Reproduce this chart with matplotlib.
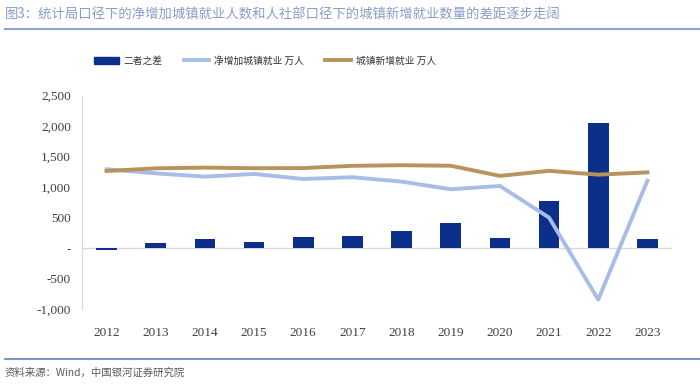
import numpy as np
import matplotlib.pyplot as plt
from matplotlib.lines import Line2D
from matplotlib.patches import Patch

plt.rcParams['font.family'] = ['Noto Sans CJK SC', 'DejaVu Sans']

# data
years = ['2012', '2013', '2014', '2015', '2016', '2017', '2018', '2019', '2020', '2021', '2022', '2023']
diff = [-28, 82, 152, 108, 190, 206, 284, 410, 174, 775, 2055, 148]
net_urban = [1295, 1228, 1174, 1218, 1136, 1164, 1092, 967, 1021, 502, -840, 1108]
new_urban = [1266, 1310, 1322, 1312, 1314, 1351, 1361, 1352, 1186, 1269, 1206, 1244]

bar_color = '#0B2F8A'
blue_line = '#A7BDE8'
gold_line = '#B8935C'

fig = plt.figure(figsize=(7, 3.87), dpi=100)
ax = fig.add_axes([82 / 700, 1 - 309.3 / 387, 590 / 700, 213.6 / 387])

x = np.arange(len(years))
ax.bar(x, diff, width=0.42, color=bar_color, zorder=2)
ax.plot(x, net_urban, color=blue_line, linewidth=2.8, zorder=3)
ax.plot(x, new_urban, color=gold_line, linewidth=2.8, zorder=3)
ax.axhline(0, color='#D9D9D9', linewidth=1, zorder=1)

ax.set_xlim(-0.5, len(years) - 0.5)
ax.set_ylim(-1000, 2500)
ax.set_yticks([-1000, -500, 0, 500, 1000, 1500, 2000, 2500])
ax.set_yticklabels(['-1,000', '-500', '-', '500', '1,000', '1,500', '2,000', '2,500'],
                   family='Liberation Serif', fontsize=9.5, color='#404040')
ax.set_xticks(x)
ax.set_xticklabels(years, family='Liberation Serif', fontsize=9.5, color='#404040')
ax.tick_params(length=0, pad=8)
ax.tick_params(axis='x', pad=13)
for s in ['top', 'right', 'bottom']:
    ax.spines[s].set_visible(False)
ax.spines['left'].set_color('#D9D9D9')

handles = [Patch(color=bar_color),
           Line2D([], [], color=blue_line, linewidth=2.8),
           Line2D([], [], color=gold_line, linewidth=2.8)]
labels = ['二者之差', '净增加城镇就业 万人', '城镇新增就业 万人']
fig.legend(handles, labels, loc='center', bbox_to_anchor=(0.378, 1 - 61 / 387), ncol=3,
           frameon=False, fontsize=7, handlelength=2.6, handleheight=0.8,
           columnspacing=2.2, handletextpad=0.5, labelcolor='#333333')

fig.text(5 / 700, 1 - 15 / 387, '图3：统计局口径下的净增加城镇就业人数和人社部口径下的城镇新增就业数量的差距逐步走阔',
         fontsize=9.6, color='#8A9CCB', va='center', ha='left')
fig.add_artist(Line2D([5 / 700, 1], [1 - 28.5 / 387] * 2, color='#8FA3D2', linewidth=1.5))
fig.add_artist(Line2D([5 / 700, 1], [1 - 358.5 / 387] * 2, color='#7D95CF', linewidth=1.5))
fig.text(5 / 700, 1 - 373 / 387, '资料来源：Wind，中国银河证券研究院',
         fontsize=7.5, color='#595959', va='center', ha='left', style='italic')

fig.savefig('out.png', dpi=100)
